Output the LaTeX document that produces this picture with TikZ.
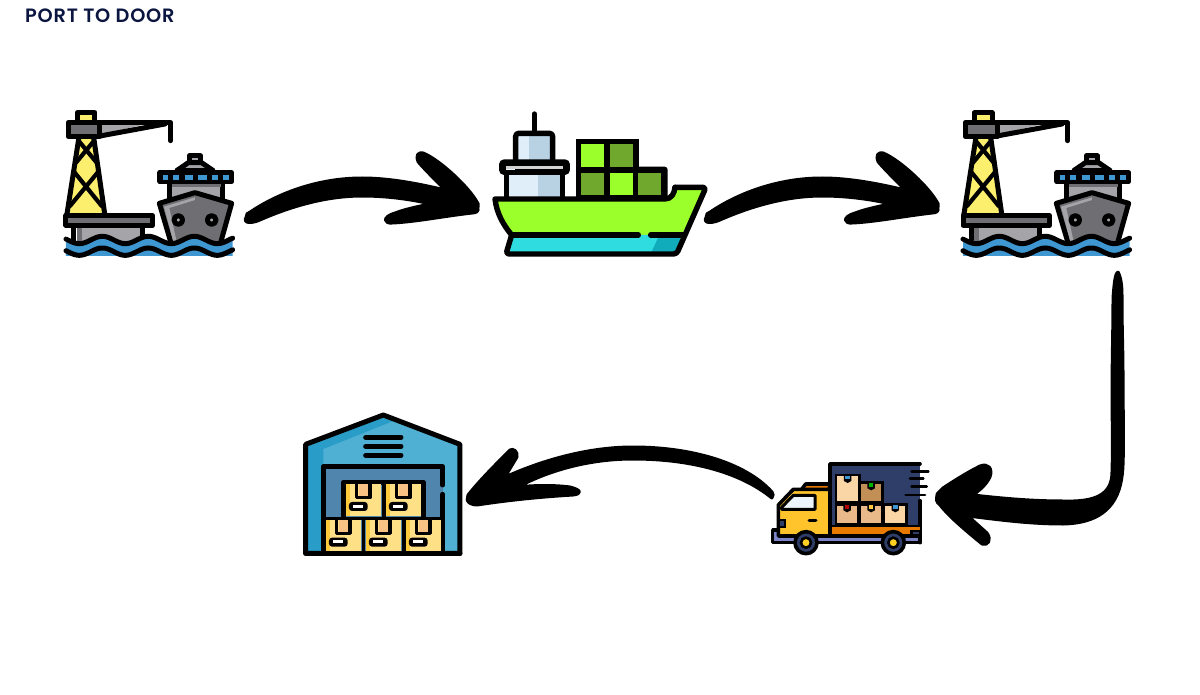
\documentclass[tikz,border=0pt]{standalone}
\usepackage{fontspec}
\setmainfont{Poppins}[BoldFont={Poppins SemiBold}]
\definecolor{titlenavy}{HTML}{0B1640}
\definecolor{craneyellow}{HTML}{FDEF6E}
\definecolor{steeldark}{HTML}{6F6F73}
\definecolor{steellight}{HTML}{A5A5A9}
\definecolor{seablue}{HTML}{3F97D2}
\definecolor{hullgreen}{HTML}{9BFF2B}
\definecolor{boxgreen}{HTML}{6FA82D}
\definecolor{keelcyan}{HTML}{2FDCDF}
\definecolor{keelteal}{HTML}{10ACBB}
\definecolor{cabinlight}{HTML}{E0EEF9}
\definecolor{cabinblue}{HTML}{B8D2E4}
\definecolor{trucknavy}{HTML}{2F3D69}
\definecolor{cabamber}{HTML}{FFC42C}
\definecolor{bedorange}{HTML}{E87A00}
\definecolor{chassisblue}{HTML}{7E84C8}
\definecolor{cartonpale}{HTML}{FAD5A6}
\definecolor{cartonmid}{HTML}{E9B98A}
\definecolor{cartondark}{HTML}{C28F56}
\definecolor{depotblue}{HTML}{4FB0D3}
\definecolor{depotdeep}{HTML}{2A9CC8}
\definecolor{doorblue}{HTML}{5085AE}
\definecolor{crateyellow}{HTML}{FEE187}
\definecolor{crateedge}{HTML}{FFC93C}
\definecolor{tapepeach}{HTML}{F9C184}
\newcommand{\wave}[1]{plot[domain=48:548,samples=90] (\x,{#1-11*cos((\x-157)/138*360)})}
% brush arrow going right, drawn from the tail coordinate
\newcommand{\brushright}[2]{%
  \fill[brush,shift={(#1)}] (#1) .. controls (-1,-3) and (2,-4) .. (4,-5)
    .. controls (29,-22) and (69,-39) .. (116,-39)
    .. controls (144,-39) and (174,-33) .. (199,-27)
    .. controls (189,-37) and (179,-47) .. (172,-55)
    .. controls (169,-62) and (172,-65) .. (177,-64)
    .. controls (194,-57) and (224,-29) .. (232,-13)
    .. controls (232,-11) and (232,-10) .. (#2)
    .. controls (233,-6) and (230,-4) .. (226,-4)
    .. controls (199,-1) and (169,5) .. (146,6)
    .. controls (138,7) and (135,0) .. (149,-4)
    .. controls (159,-8) and (174,-11) .. (184,-13)
    .. controls (164,-18) and (139,-21) .. (116,-21)
    .. controls (79,-21) and (44,-10) .. (16,2)
    .. controls (6,7) and (-4,7) .. cycle;}
\tikzset{
  zoomed/.style={x=0.3333pt,y=-0.3333pt},
  outline/.style={draw=black,line width=5pt,line join=round,line cap=round},
  brace/.style={draw=black,line width=4.2pt,line cap=round},
  brush/.style={fill=black,draw=black,line width=3pt,line join=round},
  iconbox/.style={inner sep=0pt,minimum width=#1},
  portship/.pic={
    \begin{scope}[zoomed]
    % crane
    \draw[outline,fill=craneyellow] (82,38) rectangle (135,70);
    \draw[outline,fill=craneyellow] (88,105) -- (50,348) -- (165,348) -- (130,105) -- cycle;
    \draw[brace] (88,125) -- (140,188);
    \draw[brace] (130,125) -- (78,188);
    \draw[brace] (72,215) -- (155,318);
    \draw[brace] (145,215) -- (60,318);
    \fill[steellight] (150,72) -- (290,72) -- (150,103) -- cycle;
    \draw[outline] (150,68) -- (362,68) -- (362,122);
    \draw[outline] (150,108) -- (345,72);
    \draw[outline,fill=steeldark] (55,67) rectangle (150,110);
    \fill[steellight] (80,375) rectangle (275,430);
    \fill[steeldark] (80,375) rectangle (95,430);
    \draw[outline] (72,378) -- (72,420);
    \draw[outline] (278,378) -- (278,420);
    \draw[outline,fill=steeldark] (48,347) rectangle (307,376);
    % ship
    \draw[outline,fill=steellight] (418,168) rectangle (452,195);
    \draw[outline,fill=steellight] (380,212) -- (415,188) -- (455,188) -- (490,212) -- cycle;
    \draw[outline,fill=steellight] (358,245) rectangle (518,305);
    \fill[steeldark] (365,252) rectangle (512,262);
    \draw[outline,fill=black] (330,218) rectangle (545,245);
    \foreach \wx/\ww in {338/17,370/18,405/25,445/25,487/16,520/17}
      \fill[seablue] (\wx,225) rectangle (\wx+\ww,240);
    \draw[outline,fill=steeldark] (328,310) -- (435,278) -- (545,310) -- (510,435) -- (365,435) -- cycle;
    \fill[steellight] (342,320) -- (435,292) -- (435,300) -- (358,324) -- (380,425) -- (370,425) -- cycle;
    \draw[outline,fill=steellight] (385,360) circle (13);
    \draw[outline,fill=steellight] (485,360) circle (13);
    % water
    \fill[seablue] \wave{420} -- (548,468) -- (48,468) -- cycle;
    \draw[outline] \wave{420};
    \draw[outline] \wave{455};
    \end{scope}
  },
  cargoship/.pic={
    \begin{scope}[zoomed,outline/.append style={line width=5.4pt}]
    \draw[outline] (163,42) -- (163,95);
    % cabins
    \fill[cabinlight] (85,225) rectangle (175,290);
    \fill[cabinblue] (175,225) rectangle (245,290);
    \draw[outline] (80,218) -- (80,290);
    \draw[outline] (247,218) -- (247,290);
    \fill[cabinlight] (112,106) rectangle (148,182);
    \fill[cabinblue] (148,106) rectangle (212,182);
    \draw[outline,rounded corners=3pt] (107,185) -- (107,100) -- (218,100) -- (218,185);
    \fill[black,rounded corners=5pt] (57,178) rectangle (270,225);
    \fill[steellight!50] (78,197) rectangle (250,207);
    \fill[black,rounded corners=2pt] (132,208) rectangle (250,225);
    \fill[cabinlight!60!white] (78,207) rectangle (105,209);
    % containers
    \fill[black] (288,117) rectangle (476,300);
    \fill[black,rounded corners=3pt] (400,200) rectangle (563,300);
    \foreach \cx/\cy/\cc in {303/133/hullgreen,390/133/boxgreen,303/218/boxgreen,390/218/hullgreen,475/218/boxgreen}
      \fill[\cc] (\cx,\cy) rectangle (\cx+69,\cy+68);
    % hull
    \fill[hullgreen] (45,297) -- (555,297) .. controls (575,297) and (583,280) .. (585,262) -- (678,262) -- (605,405) -- (95,405) .. controls (70,375) and (50,340) .. cycle;
    \fill[keelcyan] (95,405) -- (605,405) -- (585,462) -- (78,462) -- cycle;
    \fill[keelteal] (535,412) -- (603,412) -- (585,455) -- (515,455) -- cycle;
    \draw[outline] (95,405) .. controls (70,375) and (50,340) .. (45,297) -- (555,297) .. controls (575,297) and (583,280) .. (585,262);
    \draw[outline,rounded corners=3pt] (585,262) -- (678,262) -- (590,462) -- (78,462) -- (95,405);
    \draw[outline] (95,405) -- (475,405);
    \draw[outline] (512,405) -- (610,405);
    \end{scope}
  },
  truckbox/.pic={
    \begin{scope}[zoomed,outline/.append style={line width=3.6pt}]
    % cargo panel
    \fill[trucknavy] (210,42) rectangle (480,230);
    \draw[outline] (210,230) -- (210,42) -- (480,42);
    \draw[outline] (480,152) -- (480,278);
    \foreach \sa/\sb/\sy in {455/505/65,450/490/85,455/500/110,437/495/135}
      \draw[draw=black,line width=2.8pt,line cap=round] (\sa,\sy) -- (\sb,\sy);
    % cartons
    \foreach \ba/\bb/\bc/\bd/\bf/\bt in {
      228/75/298/157/cartonpale/seablue,
      300/97/367/157/cartondark/green!70!black,
      228/163/295/222/cartonmid/red!70!black,
      300/163/367/222/cartonmid/crateedge,
      372/163/440/222/cartonpale/seablue}{
      \draw[draw=black,line width=2.6pt,fill=\bf] (\ba,\bb) rectangle (\bc,\bd);
      \pgfmathsetmacro{\bm}{(\ba+\bc)/2}
      \fill[black] (\bm-11,\bb) -- (\bm+11,\bb) -- (\bm+11,\bb+18) -- (\bm,\bb+24) -- (\bm-11,\bb+18) -- cycle;
      \fill[\bt] (\bm-7,\bb+3) rectangle (\bm+7,\bb+13);
    }
    % bed and chassis
    \fill[bedorange] (210,228) rectangle (480,260);
    \draw[draw=black,line width=2.6pt] (210,228) -- (480,228);
    \draw[draw=black,line width=2.6pt,fill=trucknavy] (455,243) rectangle (480,260);
    \draw[outline,fill=chassisblue] (38,240) -- (38,278) -- (480,278) -- (480,258) -- (60,258) -- (60,240) -- cycle;
    % cab
    \draw[outline,fill=bedorange] (125,118) -- (137,102) -- (208,102) -- (208,118);
    \draw[outline,fill=cabamber] (210,118) -- (100,118) -- (55,165) -- (55,258) -- (210,258) -- cycle;
    \draw[draw=black,line width=3pt,fill=cabinlight!60!white,line join=round] (65,172) -- (100,136) -- (165,136) -- (165,178) -- (65,178) -- cycle;
    \draw[draw=black,line width=3pt,line cap=round] (147,212) -- (168,212);
    \fill[trucknavy,draw=black,line width=2pt] (58,210) rectangle (75,230);
    % wheels
    \foreach \wx in {138,400}{
      \draw[outline,fill=trucknavy] (\wx,278) circle (33);
      \draw[draw=black,line width=2.6pt,fill=cabamber!80!yellow] (\wx,278) circle (15);
    }
    \end{scope}
  },
  depot/.pic={
    \begin{scope}[zoomed]
    \fill[depotblue] (32,118) -- (265,30) -- (495,118) -- (495,445) -- (32,445) -- cycle;
    \fill[depotdeep] (38,120) -- (265,35) -- (295,48) -- (85,132) -- (85,440) -- (38,440) -- cycle;
    \draw[outline] (32,445) -- (32,118) -- (265,30) -- (495,118) -- (495,445) -- cycle;
    \foreach \vy in {97,124,151}
      \draw[outline] (212,\vy) -- (318,\vy);
    \fill[doorblue] (85,185) rectangle (443,445);
    \draw[outline] (85,445) -- (85,185) -- (443,185) -- (443,240);
    \draw[outline] (443,268) -- (443,445);
    \draw[outline] (145,340) -- (145,232) -- (385,232) -- (385,340);
    \foreach \bx/\by in {152/238,272/238,92/345,212/345,332/345}{
      \begin{scope}[shift={(\bx,\by)}]
      \fill[crateyellow] (0,0) rectangle (106,95);
      \fill[crateedge] (0,0) rectangle (14,95);
      \fill[tapepeach] (40,0) rectangle (66,35);
      \draw[draw=black,line width=3.2pt,line join=round] (33,0) -- (33,40) -- (73,40) -- (73,0);
      \fill[black,rounded corners=3pt] (10,53) rectangle (66,80);
      \fill[white] (23,61) rectangle (53,70);
      \end{scope}
    }
    \draw[draw=black,line width=3.4pt] (85,340) -- (443,340);
    \draw[draw=black,line width=3.4pt] (205,345) -- (205,440);
    \draw[draw=black,line width=3.4pt] (327,345) -- (327,440);
    \draw[draw=black,line width=3.4pt] (267,238) -- (267,340);
    \draw[outline] (32,445) -- (495,445);
    \end{scope}
  },
}
\begin{document}
\begin{tikzpicture}[x=1pt,y=-1pt]
\fill[white] (0,0) rectangle (1200,695);
\useasboundingbox (0,0) rectangle (1200,695);
\node[text=titlenavy,anchor=west,inner sep=0pt,font=\fontsize{19.3}{19.3}\selectfont\bfseries] (title) at (25,16) {\addfontfeatures{LetterSpace=4}PORT TO DOOR};
% icons
\node[iconbox=168pt,minimum height=148pt] (portA) at (150,184) {};
\node[iconbox=216pt,minimum height=146pt] (ship) at (600,185) {};
\node[iconbox=168pt,minimum height=148pt] (portB) at (1047,184) {};
\node[iconbox=150pt,minimum height=94pt] (truck) at (848,508) {};
\node[iconbox=158pt,minimum height=142pt] (store) at (383,484) {};
\pic at (50,100) {portship};
\pic at (480,100) {cargoship};
\pic at (947,100) {portship};
\pic at (760,450) {truckbox};
\pic at (295,405) {depot};
% connectors
\coordinate (tailA) at ([shift={(12,33)}]portA.east);
\coordinate (tipA) at ([shift={(-14,23)}]ship.west);
\coordinate (tailB) at ([shift={(-2,32)}]ship.east);
\coordinate (tipB) at ([shift={(-25,24)}]portB.west);
\coordinate (tailC) at ([shift={(-13,14)}]portB.south east);
\coordinate (tipC) at ([shift={(14,-14)}]truck.east);
\coordinate (tailD) at ([shift={(-1,-10)}]truck.west);
\coordinate (tipD) at ([shift={(5,16)}]store.east);
\brushright{tailA}{tipA}
\brushright{tailB}{tipB}
\fill[brush] (tailC) .. controls (1122,280) and (1122,290) .. (1122,298)
  .. controls (1122,330) and (1123,350) .. (1123,375)
  .. controls (1123,410) and (1124,440) .. (1123,465)
  .. controls (1122,490) and (1115,523) .. (1063,524)
  .. controls (1030,524) and (1000,520) .. (968,516)
  -- (987,533) .. controls (992,540) and (988,546) .. (982,544)
  .. controls (970,534) and (950,518) .. (940,505)
  .. controls (936,502) and (936,500) .. (tipC)
  .. controls (937,494) and (940,491) .. (943,488)
  .. controls (955,480) and (968,472) .. (980,466)
  .. controls (988,463) and (993,468) .. (990,477)
  .. controls (986,485) and (980,490) .. (973,495)
  .. controls (1000,498) and (1030,501) .. (1063,501)
  .. controls (1095,502) and (1112,495) .. (1112,472)
  .. controls (1113,440) and (1112,420) .. (1112,398)
  .. controls (1112,360) and (1113,330) .. (1113,298)
  .. controls (1114,285) and (1115,272) .. cycle;
\fill[brush] (tailD) .. controls (774,496) and (773,494) .. (772,492)
  .. controls (745,462) and (690,447) .. (633,447)
  .. controls (590,447) and (545,459) .. (505,477)
  -- (517,457) .. controls (518,451) and (513,448) .. (510,450)
  .. controls (495,465) and (480,480) .. (468,495)
  -- (tipD)
  .. controls (468,503) and (472,505) .. (477,505)
  .. controls (510,500) and (540,497) .. (573,495)
  .. controls (582,494) and (582,490) .. (570,487)
  .. controls (555,485) and (535,485) .. (518,487)
  .. controls (550,470) and (590,459) .. (633,459)
  .. controls (690,459) and (740,472) .. cycle;
\end{tikzpicture}
\end{document}
